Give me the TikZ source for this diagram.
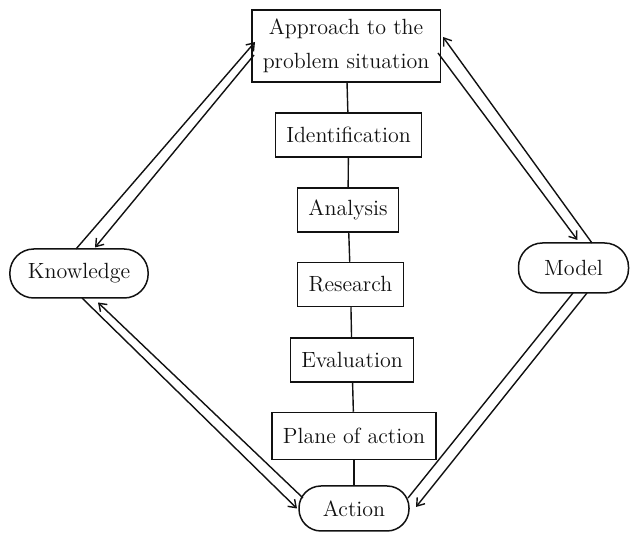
\documentclass[tikz,border=0pt]{standalone}
\usepackage{xcolor}
\definecolor{ink}{HTML}{111111}
\usepackage{tikz}
\usetikzlibrary{arrows.meta}
\tikzset{
  >={Straight Barb[length=3.5pt, width=5pt]},
  box/.style={draw=ink, align=center, text=ink, line width=0.75pt,
    font=\fontsize{11}{13.6}\selectfont, inner xsep=5.5pt, inner ysep=4pt,
    minimum height=22pt},
  stage/.style={box, rectangle},
  term/.style={box, rectangle, rounded corners=11pt, minimum width=55pt, inner xsep=9pt},
  flow/.style={->, line width=0.7pt, color=ink},
  link/.style={line width=0.7pt, color=ink},
}

\begin{document}
\begin{tikzpicture}[x=0.5pt, y=-0.5pt]
  \useasboundingbox (0,0) rectangle (633,533);

  % The centre column, top to bottom.
  \node[stage, inner ysep=4.5pt] (appr) at (346,46)
    {Approach to the\\[3.5pt] problem situation};
  \node[stage] (ident) at (348.5,135) {Identification};
  \node[stage] (anal) at (348,210) {Analysis};
  \node[stage] (res) at (350.5,284.5) {Research};
  \node[stage] (eval) at (352,360) {Evaluation};
  \node[stage, minimum height=23.5pt] (plan) at (354,436) {Plane of action};
  \node[term, minimum height=22.5pt] (act) at (354,508.5) {Action};

  \draw[link] (appr) -- (ident);
  \draw[link] (ident) -- (anal);
  \draw[link] (anal) -- (res);
  \draw[link] (res) -- (eval);
  \draw[link] (eval) -- (plan);
  \draw[link] (plan) -- (act);

  % The two side terms.
  \node[term, minimum height=24.5pt, rounded corners=12pt] (know) at (79,273.5) {Knowledge};
  \node[term, minimum height=25pt, rounded corners=12pt] (model) at (573.5,268) {Model};

  % Paired connectors round the loop.
  \draw[flow] ([shift={(-3,-24.5)}]know.center) -- ([shift={(-91,-4)}]appr.center);
  \draw[flow] ([shift={(-92,9)}]appr.center) -- ([shift={(16,-26)}]know.center);

  \draw[flow] ([shift={(18.5,-25)}]model.center) -- ([shift={(97,-9)}]appr.center);
  \draw[flow] ([shift={(92,7)}]appr.center) -- ([shift={(4,-28)}]model.center);

  \draw[flow] ([shift={(-51,-10.5)}]act.center) -- ([shift={(19,29)}]know.center);
  \draw[flow] ([shift={(3,24.5)}]know.center) -- ([shift={(-57,0)}]act.center);

  \draw[link] ([shift={(-0.5,25)}]model.center) -- ([shift={(54,-10.5)}]act.center);
  \draw[flow] ([shift={(13.5,25)}]model.center) -- ([shift={(62,-1.5)}]act.center);
\end{tikzpicture}
\end{document}
